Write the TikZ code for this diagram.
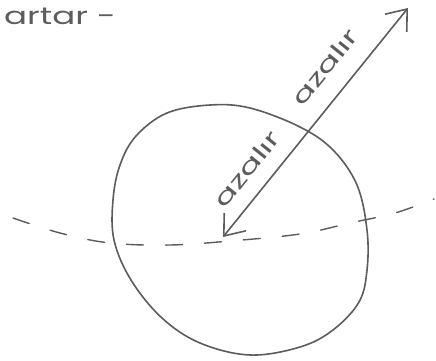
\documentclass[tikz,border=0pt]{standalone}
\usepackage{fontspec}
\setmainfont{Poppins}
\usetikzlibrary{arrows.meta}
\definecolor{pencil}{RGB}{92,92,92}
\begin{document}
\begin{tikzpicture}[x=1pt,y=-1pt,
  stroke/.style={draw=pencil,line width=1.6pt,line cap=round,line join=round},
  vbarb/.tip={Straight Barb[length=18pt,width=28pt,line width=1.6pt]},
  handtext/.style={text=pencil,inner sep=0pt}]
\useasboundingbox (0,0) rectangle (436,361);
% title
\node[handtext,anchor=west] (title) at (4,16) {\fontsize{24}{24}\selectfont\scalebox{1.42}[1]{artar -}};
% sphere
\draw[stroke] plot[smooth cycle,tension=0.6] coordinates {
 (210,105) (250,108) (300,127) (333,150) (357,185) (367,230) (367,270)
 (359,302) (333,330) (300,347) (250,355) (200,343) (162,318) (131,280)
 (114,240) (113,200) (120,165) (136,136) (167,113)};
% dashed horizon
\draw[stroke,line width=1.4pt,dash pattern=on 17pt off 22pt] plot[smooth,tension=0.6] coordinates {
 (13,218) (60,233) (110,243) (170,245) (230,241) (300,234) (350,223) (395,213) (434,199)};
% double arrow
\coordinate (lo) at (223,237);
\coordinate (hi) at (408,8);
\draw[stroke,vbarb-vbarb] (lo) -- (hi);
% labels
\node[handtext,rotate=51] (lab1) at (247,169) {\fontsize{22}{22}\selectfont\scalebox{1.55}[1]{azalır}};
\node[handtext,rotate=51] (lab2) at (325,67) {\fontsize{22}{22}\selectfont\scalebox{1.55}[1]{azalır}};
\end{tikzpicture}
\end{document}
